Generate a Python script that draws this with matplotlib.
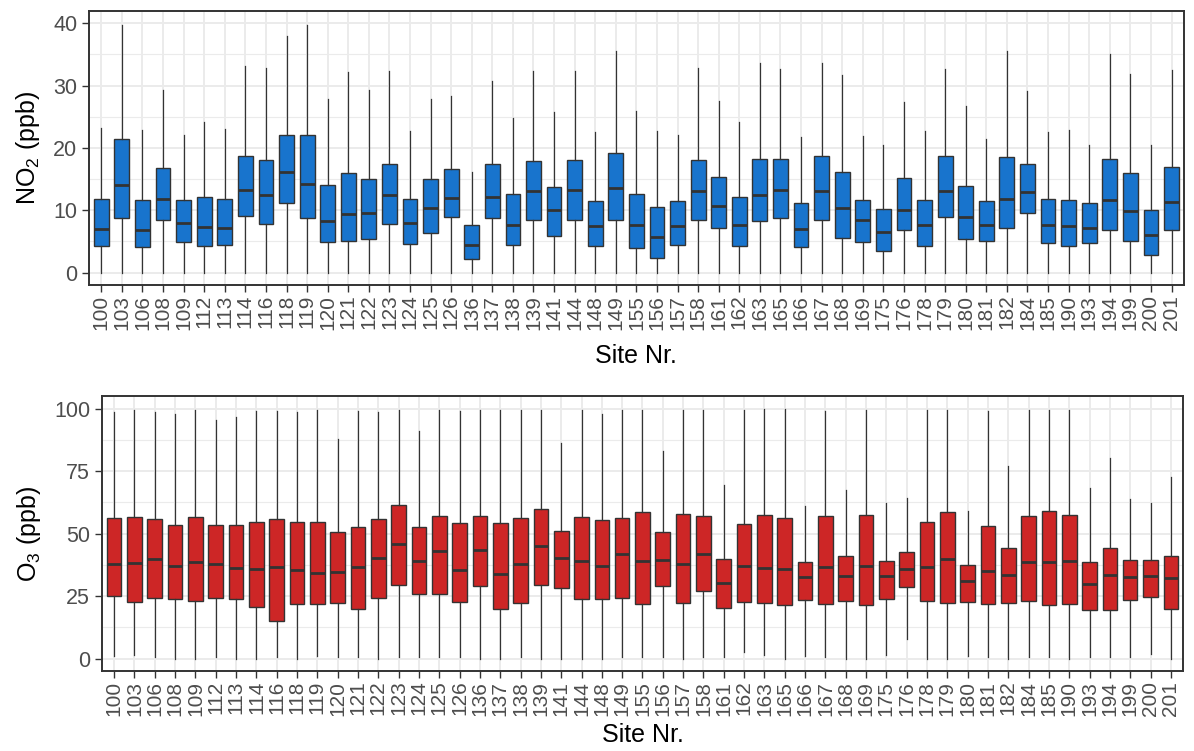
"""
    Boxplots of NO2 and O3 per site (ggplot-like theme_bw look)
"""

import numpy as np
import matplotlib
matplotlib.use('Agg')
import matplotlib.pyplot as plt
from matplotlib.ticker import MultipleLocator

plt.rcParams['font.family'] = ['Liberation Sans', 'DejaVu Sans']
plt.rcParams['mathtext.fontset'] = 'custom'
plt.rcParams['mathtext.rm'] = 'Liberation Sans'
plt.rcParams['mathtext.it'] = 'Liberation Sans'

sites = ['100', '103', '106', '108', '109', '112', '113', '114', '116', '118',
         '119', '120', '121', '122', '123', '124', '125', '126', '136', '137',
         '138', '139', '141', '144', '148', '149', '155', '156', '157', '158',
         '161', '162', '163', '165', '166', '167', '168', '169', '175', '176',
         '178', '179', '180', '181', '182', '184', '185', '190', '193', '194',
         '199', '200', '201']

# NO2 (ppb)
no2_low = [0.0] * 53
no2_q1 = [4.3, 8.7, 4.1, 8.4, 4.9, 4.3, 4.5, 9.1, 7.8, 11.1,
          8.7, 4.9, 5.0, 5.4, 7.8, 4.6, 6.3, 8.9, 2.1, 8.7,
          4.5, 8.4, 5.8, 8.5, 4.3, 8.4, 3.9, 2.3, 4.5, 8.4,
          7.1, 4.3, 8.2, 8.7, 4.1, 8.5, 5.6, 4.9, 3.4, 6.9,
          4.3, 8.9, 5.4, 5.1, 7.1, 9.5, 4.7, 4.3, 4.7, 6.9,
          5.1, 2.8, 6.9]
no2_med = [7.0, 14.0, 6.8, 11.8, 7.9, 7.3, 7.2, 13.2, 12.5, 16.1,
           14.2, 8.2, 9.4, 9.6, 12.5, 7.9, 10.3, 11.9, 4.4, 12.1,
           7.7, 13.1, 10.1, 13.2, 7.4, 13.6, 7.7, 5.7, 7.4, 13.1,
           10.7, 7.6, 12.5, 13.2, 7.0, 13.1, 10.3, 8.5, 6.5, 10.1,
           7.7, 13.1, 8.9, 7.7, 11.8, 12.9, 7.6, 7.4, 7.2, 11.6,
           9.8, 6.1, 11.4]
no2_q3 = [11.8, 21.4, 11.7, 16.8, 11.7, 12.2, 11.8, 18.7, 18.1, 22.0,
          22.0, 14.1, 15.9, 15.0, 17.5, 11.8, 15.0, 16.6, 7.6, 17.5,
          12.6, 17.9, 13.7, 18.1, 11.5, 19.2, 12.6, 10.6, 11.5, 18.1,
          15.4, 12.2, 18.2, 18.2, 11.1, 18.7, 16.1, 11.7, 10.2, 15.1,
          11.7, 18.7, 13.9, 11.5, 18.5, 17.4, 11.8, 11.7, 11.1, 18.2,
          15.9, 10.0, 17.0]
no2_high = [23.2, 39.7, 22.9, 29.3, 22.1, 24.1, 23.1, 33.2, 32.9, 38.0,
            39.8, 27.9, 32.2, 29.3, 32.4, 22.8, 27.9, 28.3, 16.2, 30.7,
            24.8, 32.3, 25.7, 32.3, 22.6, 35.6, 25.9, 22.8, 22.1, 32.9,
            27.6, 24.1, 33.7, 32.7, 21.7, 33.6, 31.7, 21.9, 20.5, 27.4,
            22.7, 32.7, 26.8, 21.5, 35.6, 29.2, 22.6, 22.9, 20.5, 35.1,
            31.9, 20.5, 32.5]

# O3 (ppb)
o3_low = [0.9, 1.3, 0.5, 0.0, 0.0, 0.5, 0.0, 0.0, 0.5, 0.0,
          0.9, 0.5, 0.5, 0.0, 0.5, 0.5, 0.5, 0.5, 0.0, 0.0,
          0.5, 0.0, 0.0, 0.0, 0.0, 0.5, 0.5, 0.5, 0.0, 0.5,
          0.5, 2.8, 1.3, 0.0, 0.9, 0.5, 0.0, 0.0, 1.3, 7.9,
          0.0, 0.0, 0.9, 0.5, 0.0, 0.5, 0.5, 0.0, 0.5, 0.5,
          0.5, 1.9, 0.0]
o3_q1 = [24.9, 22.7, 24.4, 24.0, 23.2, 24.4, 24.0, 20.8, 14.9, 21.7,
         21.7, 22.3, 19.9, 24.4, 29.6, 25.9, 25.9, 22.7, 29.1, 19.9,
         22.3, 29.6, 28.1, 24.0, 24.0, 24.4, 21.7, 29.1, 22.3, 27.2,
         20.4, 22.7, 22.3, 21.3, 23.6, 21.7, 23.2, 21.3, 24.0, 28.7,
         23.2, 22.3, 22.7, 21.7, 22.3, 23.2, 21.3, 21.7, 19.5, 19.5,
         23.6, 24.5, 20.0]
o3_med = [37.7, 38.1, 40.0, 37.2, 38.5, 37.7, 36.3, 35.9, 36.7, 35.3,
          34.4, 34.8, 36.7, 40.4, 46.0, 39.1, 43.2, 35.3, 43.6, 34.0,
          37.7, 45.1, 40.4, 39.1, 37.2, 41.9, 39.1, 39.5, 37.7, 41.9,
          30.4, 37.2, 36.3, 35.9, 32.7, 36.8, 33.1, 37.2, 33.1, 35.9,
          36.8, 40.0, 31.2, 34.9, 33.6, 38.7, 38.7, 39.1, 29.9, 33.6,
          32.7, 33.1, 32.1]
o3_q3 = [56.3, 56.7, 55.7, 53.3, 56.7, 53.3, 53.3, 54.8, 55.7, 54.8,
         54.8, 50.7, 52.5, 55.7, 61.6, 52.5, 57.1, 54.4, 57.1, 54.4,
         56.3, 59.9, 51.2, 56.7, 55.3, 56.3, 58.5, 50.7, 58.0, 57.1,
         40.0, 53.9, 57.6, 56.3, 38.7, 57.1, 41.2, 57.6, 39.2, 42.8,
         54.8, 58.5, 37.3, 53.1, 44.3, 57.1, 58.9, 57.6, 38.7, 44.3,
         39.6, 39.6, 41.2]
o3_high = [98.5, 99.5, 98.5, 97.7, 99.5, 95.3, 96.8, 99.1, 99.1, 98.5,
           99.5, 88.0, 99.1, 98.5, 99.5, 91.2, 99.5, 99.1, 99.5, 99.5,
           99.5, 99.5, 86.1, 99.5, 97.7, 99.5, 99.5, 82.9, 99.5, 99.5,
           69.6, 99.5, 100.0, 100.0, 60.9, 99.1, 67.5, 99.5, 62.3, 64.1,
           99.5, 99.5, 59.1, 99.1, 77.1, 99.5, 99.5, 99.5, 68.1, 80.1,
           63.7, 62.3, 72.8]

GRID = '#EBEBEB'
BORDER = '#333333'
TICKTXT = '#4D4D4D'


def draw_panel(ax, low, q1, med, q3, high, color, ylabel, ylim, major, minor,
               xpad):
    stats = [{'whislo': a, 'q1': b, 'med': c, 'q3': d, 'whishi': e}
             for a, b, c, d, e in zip(low, q1, med, q3, high)]
    pos = np.arange(1, len(sites) + 1)
    ax.bxp(stats, positions=pos, widths=0.72, patch_artist=True,
           showfliers=False, showcaps=False,
           boxprops=dict(facecolor=color, edgecolor=BORDER, linewidth=1.0),
           whiskerprops=dict(color=BORDER, linewidth=0.9),
           medianprops=dict(color=BORDER, linewidth=2.0))

    ax.set_xlim(0.4, len(sites) + 0.6)
    ax.set_ylim(*ylim)
    ax.set_xticks(pos)
    ax.set_xticklabels(sites, rotation=90, fontsize=15, color=TICKTXT)
    ax.yaxis.set_major_locator(MultipleLocator(major))
    ax.yaxis.set_minor_locator(MultipleLocator(minor))
    ax.tick_params(axis='y', which='major', labelsize=15.5, labelcolor=TICKTXT,
                   color=BORDER, length=5, width=1.0)
    ax.tick_params(axis='y', which='minor', length=0)
    ax.tick_params(axis='x', color=BORDER, length=5, width=1.0, pad=2)

    ax.set_axisbelow(True)
    ax.grid(True, which='major', color=GRID, linewidth=1.4)
    ax.grid(True, which='minor', axis='y', color=GRID, linewidth=0.8)
    for sp in ax.spines.values():
        sp.set_color(BORDER)
        sp.set_linewidth(1.4)

    ax.set_xlabel('Site Nr.', fontsize=18, labelpad=xpad)
    ax.set_ylabel(ylabel, fontsize=18, labelpad=8)


fig = plt.figure(figsize=(11.94, 7.51), dpi=100)
ax1 = fig.add_axes([0.0745, 0.6205, 0.917, 0.365])
ax2 = fig.add_axes([0.0854, 0.1065, 0.9054, 0.366])

draw_panel(ax1, no2_low, no2_q1, no2_med, no2_q3, no2_high, '#1874CD',
           r'NO$_2$ (ppb)', (-2, 42), 10, 5, 10)
draw_panel(ax2, o3_low, o3_q1, o3_med, o3_q3, o3_high, '#CD2626',
           r'O$_3$ (ppb)', (-5, 105), 25, 12.5, 5)

fig.savefig('out.png', dpi=100)
